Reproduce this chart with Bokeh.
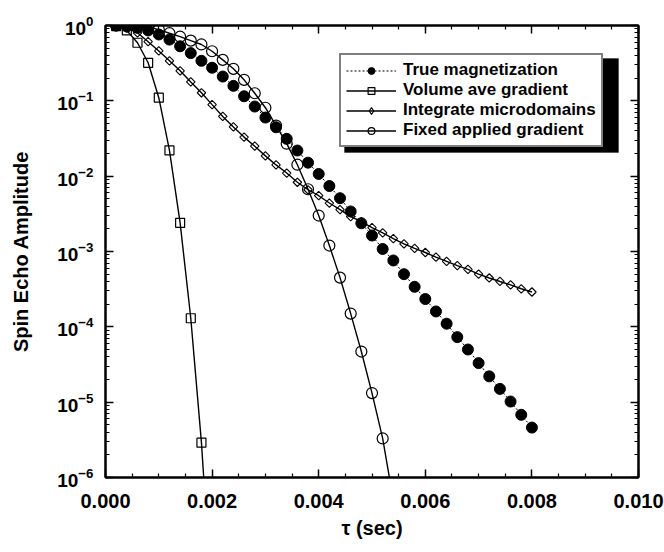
from bokeh.plotting import figure
from bokeh.models import (FixedTicker, LinearAxis, LogAxis, Legend, LegendItem,
                          BoxAnnotation, NumeralTickFormatter, Range1d, CustomJSTickFormatter,
                          CDSView, IndexFilter, ColumnDataSource)
from bokeh.embed import file_html
from bokeh.resources import INLINE

# ---------------- data ----------------
tau_40 = [0.0002, 0.0004, 0.0006, 0.0008, 0.0010, 0.0012, 0.0014, 0.0016, 0.0018, 0.0020,
          0.0022, 0.0024, 0.0026, 0.0028, 0.0030, 0.0032, 0.0034, 0.0036, 0.0038, 0.0040,
          0.0042, 0.0044, 0.0046, 0.0048, 0.0050, 0.0052, 0.0054, 0.0056, 0.0058, 0.0060,
          0.0062, 0.0064, 0.0066, 0.0068, 0.0070, 0.0072, 0.0074, 0.0076, 0.0078, 0.0080]

true_mag = [1.0, 0.97, 0.93, 0.86, 0.76, 0.65, 0.53, 0.43, 0.34, 0.275,
            0.21, 0.158, 0.115, 0.084, 0.060, 0.0446, 0.0313, 0.0219, 0.0151, 0.0107,
            0.0074, 0.0051, 0.0034, 0.00237, 0.00163, 0.00108, 7.6e-4, 5.0e-4, 3.4e-4, 2.34e-4,
            1.6e-4, 1.1e-4, 7.3e-5, 5.0e-5, 3.3e-5, 2.2e-5, 1.5e-5, 1.02e-5, 6.8e-6, 4.6e-6]

integ_micro = [0.99, 0.92, 0.80, 0.61, 0.46, 0.34, 0.25, 0.178, 0.128, 0.089,
               0.062, 0.045, 0.033, 0.025, 0.0186, 0.0141, 0.011, 0.0083, 0.0066, 0.0055,
               0.0044, 0.0036, 0.0029, 0.0025, 0.00207, 0.00177, 0.00148, 0.00126, 0.0011, 9.7e-4,
               8.4e-4, 7.4e-4, 6.5e-4, 5.8e-4, 5.0e-4, 4.45e-4, 4.0e-4, 3.6e-4, 3.2e-4, 2.9e-4]

tau_fixed = [0.0002, 0.0004, 0.0006, 0.0008, 0.0010, 0.0012, 0.0014, 0.0016, 0.0018, 0.0020,
             0.0022, 0.0024, 0.0026, 0.0028, 0.0030, 0.0032, 0.0034, 0.0036, 0.0038, 0.0040,
             0.0042, 0.0044, 0.0046, 0.0048, 0.0050, 0.0052]
fixed_grad = [1.0, 0.995, 0.98, 0.95, 0.88, 0.79, 0.71, 0.63, 0.56, 0.455,
              0.35, 0.266, 0.19, 0.126, 0.081, 0.047, 0.027, 0.0142, 0.0067, 0.0030,
              0.0012, 4.5e-4, 1.5e-4, 4.7e-5, 1.32e-5, 3.3e-6]
fixed_tail_tau = [0.0054]
fixed_tail_val = [5e-7]

tau_vol = [0.0002, 0.0004, 0.0006, 0.0008, 0.0010, 0.0012, 0.0014, 0.0016, 0.0018]
vol_ave = [0.98, 0.86, 0.59, 0.32, 0.11, 0.022, 0.0024, 1.3e-4, 2.9e-6]
vol_tail_tau = [0.0020]
vol_tail_val = [2e-8]

x_major = [0.0, 0.002, 0.004, 0.006, 0.008, 0.010]
x_minor = [0.0005, 0.001, 0.0015, 0.0025, 0.003, 0.0035, 0.0045, 0.005, 0.0055,
           0.0065, 0.007, 0.0075, 0.0085, 0.009, 0.0095]
y_major = [1e-6, 1e-5, 1e-4, 1e-3, 1e-2, 1e-1, 1.0]
y_minor = [m * d for d in [1e-6, 1e-5, 1e-4, 1e-3, 1e-2, 1e-1] for m in range(2, 10)]

labels = ["True magnetization", "Volume ave gradient",
          "Integrate microdomains", "Fixed applied gradient"]

FONT = "Liberation Sans"

# ---------------- figure ----------------
p = figure(width=664, height=552, x_range=Range1d(0, 0.01), y_range=Range1d(1e-6, 1.0),
           y_axis_type="log", output_backend="svg", toolbar_location=None,
           min_border_left=105, min_border_right=26, min_border_top=25, min_border_bottom=75)
p.grid.visible = False
p.outline_line_color = "black"
p.outline_line_width = 2
p.background_fill_color = "white"
p.border_fill_color = "white"

xt = FixedTicker(ticks=x_major, minor_ticks=x_minor)
yt = FixedTicker(ticks=y_major, minor_ticks=y_minor)

def style(ax):
    ax.axis_line_color = "black"
    ax.axis_line_width = 2
    ax.major_tick_in = 8
    ax.major_tick_out = 0
    ax.minor_tick_in = 4
    ax.minor_tick_out = 0
    ax.major_tick_line_width = 1.5
    ax.minor_tick_line_width = 1.2
    ax.major_label_text_font = FONT
    ax.major_label_text_font_style = "bold"
    ax.major_label_text_color = "black"
    ax.axis_label_text_font = FONT
    ax.axis_label_text_font_style = "bold"
    ax.axis_label_text_color = "black"

xa = p.xaxis[0]
xa.ticker = xt
xa.formatter = NumeralTickFormatter(format="0.000")
style(xa)
xa.major_label_text_font_size = "20px"
xa.major_label_standoff = 16
xa.axis_label = "τ (sec)"
xa.axis_label_text_font_size = "20px"
xa.axis_label_standoff = 6

ya = p.yaxis[0]
ya.ticker = yt
style(ya)
ya.major_label_text_font_size = "19px"
ya.major_label_standoff = 12
ya.axis_label = "Spin Echo Amplitude"
ya.axis_label_text_font_size = "20px"
ya.axis_label_standoff = 22

top = LinearAxis(ticker=xt, formatter=CustomJSTickFormatter(code="return ''"))
style(top)
top.major_label_standoff = 0
p.add_layout(top, "above")

right = LogAxis(ticker=yt, formatter=CustomJSTickFormatter(code="return ''"))
style(right)
right.major_label_standoff = 0
p.add_layout(right, "right")

# ---------------- data renderers ----------------
int_src = ColumnDataSource(data=dict(t=tau_40, v=integ_micro))
# legend swatch for the diamond series: only its first point, hidden beneath
# the filled circle drawn next
m_int_key = p.scatter("t", "v", source=int_src, view=CDSView(filter=IndexFilter(indices=[0])),
                      marker="diamond", size=10, fill_color=None,
                      line_color="black", line_width=1.1)

l_true = p.line(tau_40, true_mag, line_color="black", line_width=1, line_dash="2 2")
m_true = p.scatter(tau_40, true_mag, marker="circle", size=11, fill_color="black",
                   line_color="black")

l_vol = p.line(tau_vol + vol_tail_tau, vol_ave + vol_tail_val, line_color="black", line_width=1.4)
m_vol = p.scatter(tau_vol, vol_ave, marker="square", size=9, fill_color=None,
                  line_color="black", line_width=1.2)

l_int = p.line("t", "v", source=int_src, line_color="black", line_width=1.4)
m_int = p.scatter("t", "v", source=int_src, marker="square", angle=0.785398, size=6,
                  fill_color=None, line_color="black", line_width=1.1)

l_fix = p.line(tau_fixed + fixed_tail_tau, fixed_grad + fixed_tail_val, line_color="black",
               line_width=1.4)
m_fix = p.scatter(tau_fixed, fixed_grad, marker="circle", size=11, fill_color=None,
                  line_color="black", line_width=1.2)

# ---------------- legend with drop shadow ----------------
shadow = BoxAnnotation(left=0.004484, right=0.009625, top=0.3648, bottom=0.0206,
                       fill_color="black", fill_alpha=1.0, line_color="black")
p.add_layout(shadow)

legend = Legend(items=[LegendItem(label=labels[0], renderers=[l_true, m_true]),
                       LegendItem(label=labels[1], renderers=[l_vol, m_vol]),
                       LegendItem(label=labels[2], renderers=[l_int, m_int_key]),
                       LegendItem(label=labels[3], renderers=[l_fix, m_fix])],
                location=(234, 330))
legend.label_text_font = FONT
legend.label_text_font_style = "bold"
legend.label_text_font_size = "17px"
legend.label_text_color = "black"
legend.glyph_width = 50
legend.glyph_height = 17
legend.label_height = 17
legend.label_standoff = 7
legend.spacing = 0
legend.padding = 5
legend.margin = 0
legend.border_line_color = "black"
legend.border_line_width = 2
legend.background_fill_color = "white"
legend.background_fill_alpha = 1.0
p.add_layout(legend)

open("out.html", "w").write(file_html(p, INLINE))
